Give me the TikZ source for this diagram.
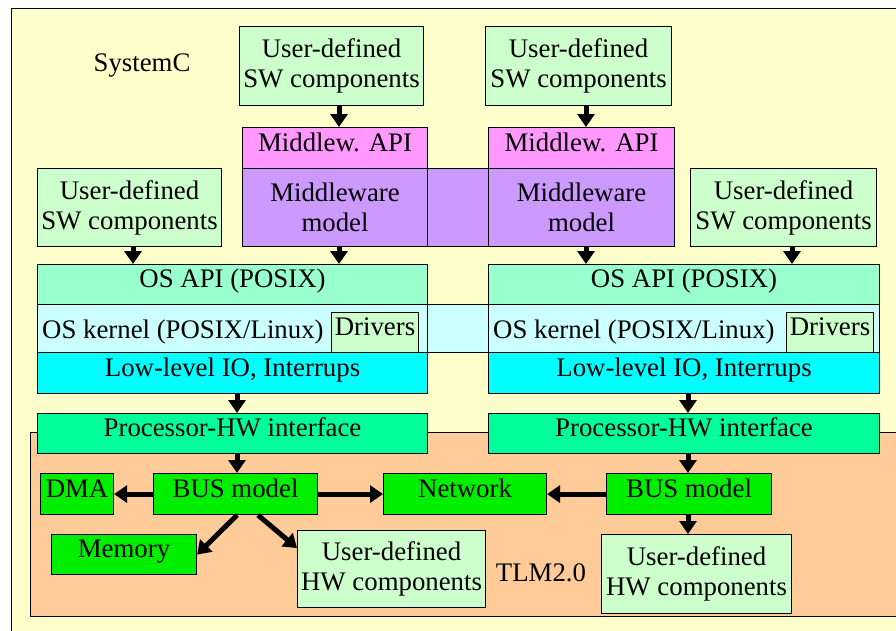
\documentclass[tikz,border=0pt]{standalone}
\usepackage{fontspec}
\setmainfont{Liberation Serif}
\usetikzlibrary{arrows.meta}
\definecolor{sysyellow}{HTML}{FFFFCC}
\definecolor{tlmorange}{HTML}{FFCC99}
\definecolor{swgreen}{HTML}{CCFFCC}
\definecolor{apipink}{HTML}{FF99FF}
\definecolor{mwpurple}{HTML}{CC99FF}
\definecolor{osapi}{HTML}{99FFCC}
\definecolor{kernel}{HTML}{CCFFFF}
\definecolor{lowio}{HTML}{00FFFF}
\definecolor{prochw}{HTML}{00FF99}
\definecolor{hwgreen}{HTML}{00EE00}
\begin{document}
\begin{tikzpicture}[x=1pt,y=-1pt,
  box/.style={draw=black, line width=1.1pt, anchor=north west, inner sep=0pt,
    align=center, font=\fontsize{26.8}{30}\selectfont},
  up/.style={text height=17pt, text depth=11pt},
  txt/.style={inner sep=0pt, font=\fontsize{26.8}{30}\selectfont},
  arr/.style={line width=5pt, -{Triangle[length=13pt,width=17pt]}}]
\useasboundingbox (0,0) rectangle (896,630);
\clip (0,0) rectangle (896,630);
% SystemC and TLM2.0 frames
\node[box, fill=sysyellow, minimum width=900pt, minimum height=640pt] (sysc) at (11,8) {};
\node[box, fill=tlmorange, minimum width=880pt, minimum height=184pt] (tlm) at (30,432) {};
\node[txt] (sysclbl) at (142,66) {SystemC};
\node[txt] (tlmlbl) at (541,573) {TLM2.0};
% software stack
\node[box, fill=swgreen, minimum width=184pt, minimum height=79pt] (swa) at (239,26) {User-defined\\SW components};
\node[box, fill=swgreen, minimum width=186pt, minimum height=79pt] (swb) at (485,26) {User-defined\\SW components};
\node[box, up, fill=apipink, minimum width=185pt, minimum height=41pt] (mapiA) at (242,127) {Middlew. API};
\node[box, up, fill=apipink, minimum width=186pt, minimum height=41pt] (mapiB) at (488,127) {Middlew. API};
\node[box, fill=mwpurple, minimum width=61pt, minimum height=78pt] (mwmid) at (427,168) {};
\node[box, fill=mwpurple, minimum width=185pt, minimum height=78pt] (mwA) at (242,168) {Middleware\\model};
\node[box, fill=mwpurple, minimum width=186pt, minimum height=78pt] (mwB) at (488,168) {Middleware\\model};
\node[box, fill=swgreen, minimum width=184pt, minimum height=78pt] (swl) at (37,168) {User-defined\\SW components};
\node[box, fill=swgreen, minimum width=186pt, minimum height=78pt] (swr) at (690,168) {User-defined\\SW components};
% operating system layers
\node[box, up, fill=osapi, minimum width=390pt, minimum height=40pt] (osA) at (37,264) {OS API (POSIX)};
\node[box, up, fill=osapi, minimum width=391pt, minimum height=40pt] (osB) at (488,264) {OS API (POSIX)};
\node[box, fill=kernel, minimum width=61pt, minimum height=48pt] (kmid) at (427,304) {};
\node[box, fill=kernel, minimum width=390pt, minimum height=48pt] (kA) at (37,304) {};
\node[box, fill=kernel, minimum width=391pt, minimum height=48pt] (kB) at (488,304) {};
\node[txt, anchor=base west] (ktA) at (42,338) {OS kernel (POSIX/Linux)};
\node[txt, anchor=base west] (ktB) at (493,338) {OS kernel (POSIX/Linux)};
\node[box, up, fill=swgreen, minimum width=87pt, minimum height=40pt] (drvA) at (331,312) {Drivers};
\node[box, up, fill=swgreen, minimum width=87pt, minimum height=40pt] (drvB) at (786,312) {Drivers};
\node[box, up, fill=lowio, minimum width=390pt, minimum height=41pt] (llA) at (37,352) {Low-level IO, Interrups};
\node[box, up, fill=lowio, minimum width=391pt, minimum height=41pt] (llB) at (488,352) {Low-level IO, Interrups};
\node[box, up, fill=prochw, minimum width=390pt, minimum height=40pt] (procA) at (37,413) {Processor-HW interface};
\node[box, up, fill=prochw, minimum width=391pt, minimum height=40pt] (procB) at (488,413) {Processor-HW interface};
% hardware models
\node[box, up, fill=hwgreen, minimum width=73pt, minimum height=41pt] (dma) at (40,473) {DMA};
\node[box, up, fill=hwgreen, minimum width=164pt, minimum height=41pt] (busA) at (153,473) {BUS model};
\node[box, up, fill=hwgreen, minimum width=163pt, minimum height=41pt] (net) at (383,473) {Network};
\node[box, up, fill=hwgreen, minimum width=165pt, minimum height=41pt] (busB) at (606,473) {BUS model};
\node[box, up, fill=hwgreen, minimum width=145pt, minimum height=40pt] (mem) at (51,534) {Memory};
\node[box, fill=swgreen, minimum width=188pt, minimum height=77pt] (hwA) at (297,530) {User-defined\\HW components};
\node[box, fill=swgreen, minimum width=190pt, minimum height=79pt] (hwB) at (601,534) {User-defined\\HW components};
% connectors
\draw[arr] (swa.south -| 339,0) -- (mapiA.north -| 339,0);
\draw[arr] (swb.south -| 586,0) -- (mapiB.north -| 586,0);
\draw[arr] (swl.south -| 133,0) -- (osA.north -| 133,0);
\draw[arr] (mwA.south -| 339,0) -- (osA.north -| 339,0);
\draw[arr] (mwB.south -| 586,0) -- (osB.north -| 586,0);
\draw[arr] (swr.south -| 792,0) -- (osB.north -| 792,0);
\draw[arr] (llA.south -| 237,0) -- (procA.north -| 237,0);
\draw[arr] (llB.south -| 688,0) -- (procB.north -| 688,0);
\draw[arr] (procA.south -| 237,0) -- (busA.north -| 237,0);
\draw[arr] (procB.south -| 688,0) -- (busB.north -| 688,0);
\draw[arr] (busA.west) -- (dma.east);
\draw[arr] (busA.east) -- (net.west);
\draw[arr] (busB.west) -- (net.east);
\draw[arr] (busA.south -| 237,0) -- (mem.east);
\draw[arr] (busA.south -| 258,0) -- ([yshift=-18pt]hwA.north west);
\draw[arr] (busB.south -| 688,0) -- (hwB.north -| 688,0);
\end{tikzpicture}
\end{document}
